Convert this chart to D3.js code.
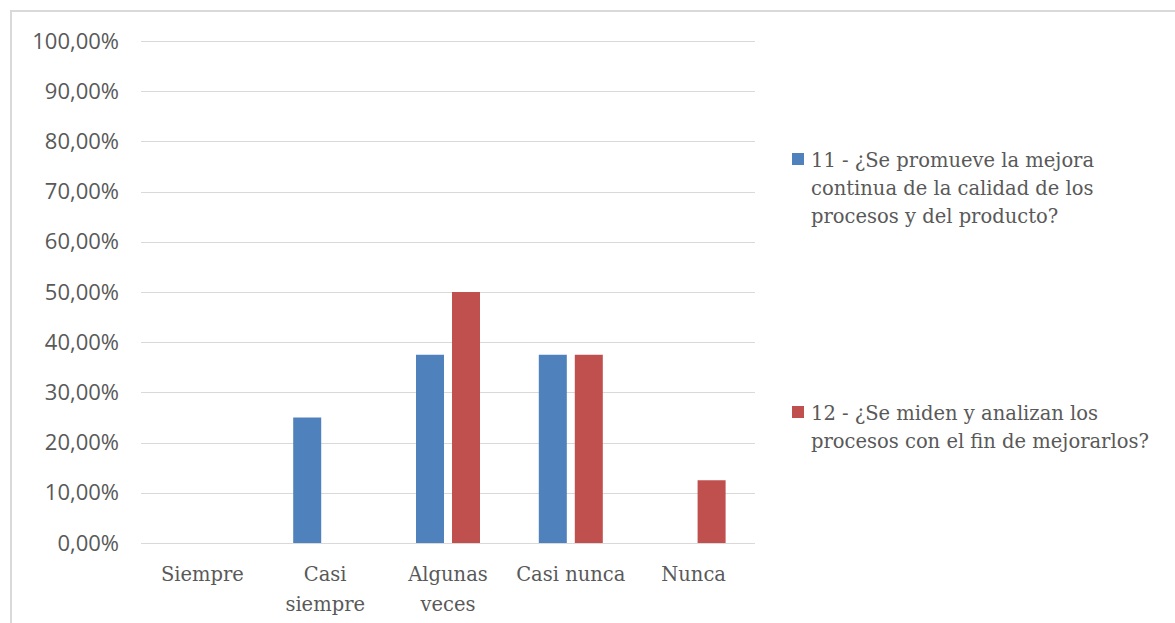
<!DOCTYPE html>
<html>
<head>
<meta charset="utf-8">
<script src="https://cdn.jsdelivr.net/npm/d3@7"></script>
<style>
  body { margin: 0; background: #fff; }
  svg { display: block; }
</style>
</head>
<body>
<div id="chart"></div>
<script>
// data
var categories = ["Siempre", "Casi siempre", "Algunas veces", "Casi nunca", "Nunca"];
var categoryLines = [["Siempre"], ["Casi", "siempre"], ["Algunas", "veces"], ["Casi nunca"], ["Nunca"]];
var seriesNames = [
    "11 - ¿Se promueve la mejora continua de la calidad de los procesos y del producto?",
    "12 - ¿Se miden y analizan los procesos con el fin de mejorarlos?"
];
var legendLines = [
    ["11 - ¿Se promueve la mejora", "continua de la calidad de los", "procesos y del producto?"],
    ["12 - ¿Se miden y analizan los", "procesos con el fin de mejorarlos?"]
];
var s11 = [0, 0.25, 0.375, 0.375, 0];
var s12 = [0, 0, 0.50, 0.375, 0.125];
var yTicks = [0, 0.1, 0.2, 0.3, 0.4, 0.5, 0.6, 0.7, 0.8, 0.9, 1.0];
var colors = ["#4F81BD", "#C0504D"];

var W = 1175, H = 623;
var margin = { top: 41, left: 141, right: 420, bottom: 80 };
var plotW = 755 - 141, plotH = 543 - 41;

var svg = d3.select("#chart").append("svg")
    .attr("width", W)
    .attr("height", H);

// outer frame (only left/top visible)
svg.append("rect")
    .attr("x", 11).attr("y", 11)
    .attr("width", W + 20).attr("height", H + 20)
    .attr("fill", "none")
    .attr("stroke", "#d9d9d9")
    .attr("stroke-width", 2);

var g = svg.append("g").attr("transform", "translate(" + margin.left + "," + margin.top + ")");

var x0 = d3.scaleBand().domain(categories).range([0, plotW]);
var x1 = d3.scaleBand().domain(seriesNames).range([-32, 32]).paddingInner(0.222);
var y = d3.scaleLinear().domain([0, 1]).range([plotH, 0]);

var fmt = function(v) { return d3.format(".2f")(v * 100).replace(".", ",") + "%"; };

// gridlines
g.append("g")
    .selectAll("line")
    .data(yTicks)
    .enter()
    .append("line")
    .attr("x1", 0).attr("x2", plotW)
    .attr("y1", function(d) { return Math.round(y(d)) + 0.5; })
    .attr("y2", function(d) { return Math.round(y(d)) + 0.5; })
    .attr("stroke", "#d9d9d9")
    .attr("stroke-width", 1);

// y axis labels
var yAxis = d3.axisLeft(y).tickValues(yTicks).tickFormat(fmt).tickSize(0).tickPadding(22);
var ya = g.append("g").call(yAxis);
ya.select(".domain").remove();
ya.selectAll("text")
    .attr("fill", "#595959")
    .style("font-family", "'Open Sans', sans-serif")
    .style("font-size", "22px");

// bars
var rows = categories.map(function(c, i) { return { cat: c, vals: [s11[i], s12[i]] }; });
var groups = g.selectAll(".grp")
    .data(rows)
    .enter()
    .append("g")
    .attr("transform", function(d) { return "translate(" + (x0(d.cat) + x0.bandwidth() / 2) + ",0)"; });

groups.selectAll("rect")
    .data(function(d) { return d.vals.map(function(v, k) { return { name: seriesNames[k], v: v, k: k }; }); })
    .enter()
    .append("rect")
    .filter(function(d) { return d.v > 0; })
    .attr("x", function(d) { return x1(d.name); })
    .attr("width", x1.bandwidth())
    .attr("y", function(d) { return y(d.v); })
    .attr("height", function(d) { return plotH - y(d.v); })
    .attr("fill", function(d) { return colors[d.k]; });

// category labels
var xl = g.append("g");
categories.forEach(function(c, i) {
    var t = xl.append("text")
        .attr("x", x0(c) + x0.bandwidth() / 2)
        .attr("y", plotH + 38)
        .attr("text-anchor", "middle")
        .attr("fill", "#595959")
        .style("font-family", "'DejaVu Serif', serif")
        .style("font-size", "19.5px");
    categoryLines[i].forEach(function(line, j) {
        t.append("tspan")
            .attr("x", x0(c) + x0.bandwidth() / 2)
            .attr("dy", j == 0 ? 0 : 30)
            .text(line);
    });
});

// legend
var legendY = [153, 406];
legendLines.forEach(function(lines, k) {
    var lg = svg.append("g");
    lg.append("rect")
        .attr("x", 792).attr("y", legendY[k])
        .attr("width", 12).attr("height", 12)
        .attr("fill", colors[k]);
    var t = lg.append("text")
        .attr("x", 811)
        .attr("y", legendY[k] + 14)
        .attr("fill", "#595959")
        .style("font-family", "'DejaVu Serif', serif")
        .style("font-size", "19.5px");
    lines.forEach(function(line, j) {
        t.append("tspan")
            .attr("x", 811)
            .attr("dy", j == 0 ? 0 : 28)
            .text(line);
    });
});
</script>
</body>
</html>
